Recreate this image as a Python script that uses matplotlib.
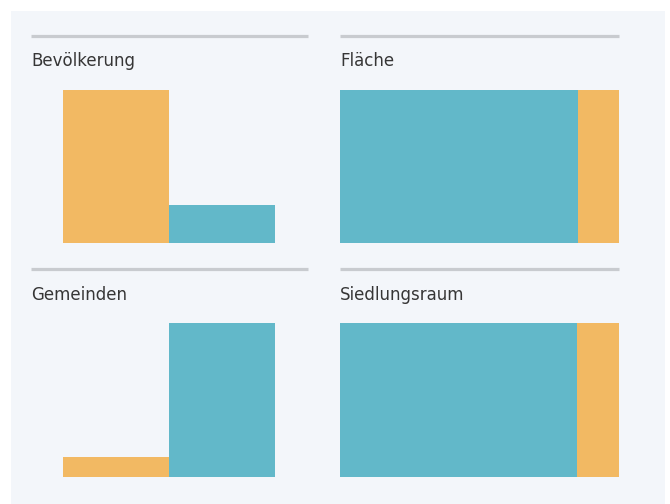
import matplotlib
matplotlib.use("Agg")
import matplotlib.pyplot as plt
from matplotlib.patches import Rectangle
from matplotlib.lines import Line2D

# shares in percent: (orange, teal)
titles = ["Bevölkerung", "Fläche", "Gemeinden", "Siedlungsraum"]
bevoelkerung = [80.0, 20.0]
flaeche = [14.7, 85.3]
gemeinden = [11.5, 88.5]
siedlungsraum = [15.0, 85.0]

ORANGE = "#f2b963"
TEAL = "#62b8c9"
BG = "#f3f6fa"
RULE = "#c8cbcf"
TEXT = "#363636"

W, H = 670, 504
fig = plt.figure(figsize=(W / 100, H / 100), dpi=100, facecolor="white")


def px_axes(x0, y0, x1, y1):
    # axes placed by pixel box (top-left origin)
    ax = fig.add_axes([x0 / W, 1 - y1 / H, (x1 - x0) / W, (y1 - y0) / H])
    ax.set_axis_off()
    return ax


# light panel behind everything
fig.add_artist(Rectangle((11 / W, 0), (665 - 11) / W, 1 - 11 / H,
                         transform=fig.transFigure, facecolor=BG,
                         edgecolor="none", zorder=0))

# headers: rule + title for each cell
for i, title in enumerate(titles):
    col, row = i % 2, i // 2
    x0, x1 = (31, 308) if col == 0 else (340, 619)
    y_rule = 36 + row * 233
    fig.add_artist(Line2D([x0 / W, x1 / W], [1 - y_rule / H] * 2,
                          transform=fig.transFigure, color=RULE, lw=2.3,
                          solid_capstyle="butt"))
    fig.text(x0 / W, 1 - (y_rule + 30.5) / H, title, fontsize=12,
             color=TEXT, ha="left", va="baseline")


def column_pair(ax, values):
    ax.bar([0, 1], values, width=1, align="edge", color=[ORANGE, TEAL])
    ax.set_xlim(0, 2)
    ax.set_ylim(0, max(values))


def stacked(ax, values):
    orange, teal = values
    ax.barh(0, teal, height=1, color=TEAL)
    ax.barh(0, orange, left=teal, height=1, color=ORANGE)
    ax.set_xlim(0, 100)
    ax.set_ylim(-0.5, 0.5)


column_pair(px_axes(63, 90, 275, 243), bevoelkerung)
stacked(px_axes(340, 90, 619, 243), flaeche)
column_pair(px_axes(63, 323, 275, 477), gemeinden)
stacked(px_axes(340, 323, 619, 477), siedlungsraum)

fig.savefig("out.png", dpi=100, facecolor="white")
